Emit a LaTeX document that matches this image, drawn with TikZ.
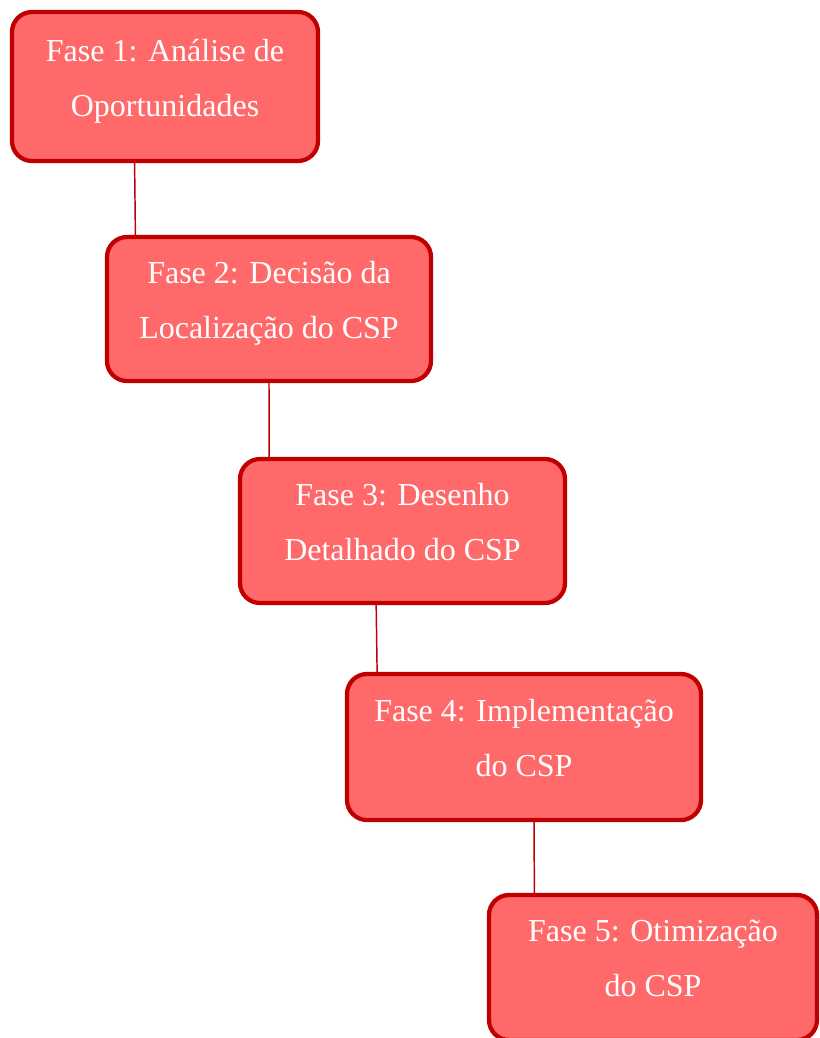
\documentclass[tikz,border=0pt]{standalone}
\usepackage{fontspec}
\setmainfont{Liberation Serif}
\usetikzlibrary{calc}
\definecolor{fasefill}{HTML}{FF6969}
\definecolor{faseline}{HTML}{C00000}

\begin{document}
\begin{tikzpicture}[x=0.75pt,y=-0.75pt,
  fase/.style={draw=faseline,fill=fasefill,line width=3.2pt,rounded corners=15pt,
    text=white,align=center,font=\fontsize{24}{41.25}\selectfont,
    execute at begin node=\rule{0pt}{22.5pt},
    execute at end node=\rule[-13.5pt]{0pt}{13.5pt}},
  ligacao/.style={draw=faseline,line width=1.1pt}]
  \useasboundingbox (0,0) rectangle (819,1038);
  \node [fase,minimum width=229.5pt,minimum height=111.75pt] (f1) at (165,86.5) {Fase 1: Análise de\\Oportunidades};
  \node [fase,minimum width=243pt,minimum height=108pt] (f2) at (269,309) {Fase 2: Decisão da\\Localização do CSP};
  \node [fase,minimum width=243.75pt,minimum height=108pt] (f3) at (402.5,531) {Fase 3: Desenho\\Detalhado do CSP};
  \node [fase,minimum width=265.5pt,minimum height=109.5pt] (f4) at (524,747) {Fase 4: Implementação\\do CSP};
  \node [fase,minimum width=246pt,minimum height=108.75pt] (f5) at (653,967.5) {Fase 5: Otimização\\do CSP};
  \draw [ligacao] ($(f1.south west)!0.402!(f1.south east)$) -- ($(f2.north west)!0.093!(f2.north east)$);
  \draw [ligacao] (f2.south) -- ($(f3.north west)!0.095!(f3.north east)$);
  \draw [ligacao] ($(f3.south west)!0.42!(f3.south east)$) -- ($(f4.north west)!0.09!(f4.north east)$);
  \draw [ligacao] ($(f4.south west)!0.528!(f4.south east)$) -- ($(f5.north west)!0.143!(f5.north east)$);
\end{tikzpicture}
\end{document}
